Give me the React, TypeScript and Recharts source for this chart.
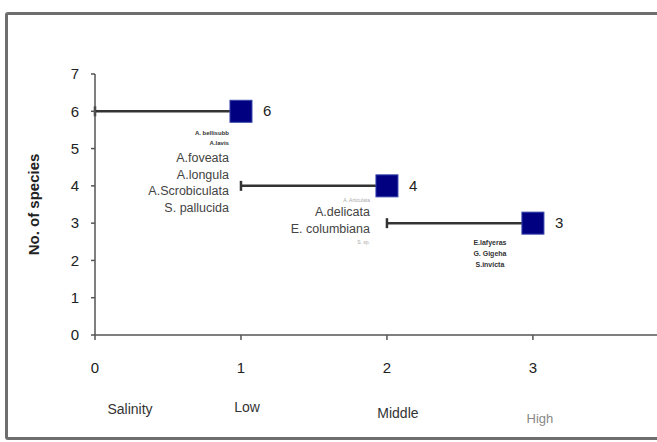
import React from "react";
import { ScatterChart, Scatter, XAxis, YAxis, ErrorBar } from "recharts";

// salinity level, number of species, and where each bar starts
const levels = [1, 2, 3];
const speciesCount = [6, 4, 3];
const rangeStart = [0, 1, 2];
const xTicks = [0, 1, 2, 3];
const yTicks = [0, 1, 2, 3, 4, 5, 6, 7];
const salinityNames = ["Salinity", "Low", "Middle", "High"];

const lowSpecies = ["A. bellisubb", "A.lavis", "A.foveata", "A.longula", "A.Scrobiculata", "S. pallucida"];
const middleSpecies = ["A. Articulata", "A.delicata", "E. columbiana", "S. sp."];
const highSpecies = ["E.lafyeras", "G. Gigeha", "S.invicta"];
const speciesGroups = [lowSpecies, middleSpecies, highSpecies];

const FONT = "'Liberation Sans', Arial, sans-serif";

// layout of the species notes under each square
const noteLayout = [
  { dx: -12, anchor: "end", lines: [
    { dy: 24, size: 6, color: "#333", weight: 700 },
    { dy: 34, size: 6, color: "#333", weight: 700 },
    { dy: 51, size: 12.5, color: "#444", weight: 400 },
    { dy: 68, size: 12.5, color: "#444", weight: 400 },
    { dy: 84, size: 12.5, color: "#444", weight: 400 },
    { dy: 101, size: 12.5, color: "#444", weight: 400 },
  ] },
  { dx: -17, anchor: "end", lines: [
    { dy: 16, size: 5, color: "#aaa", weight: 400 },
    { dy: 30, size: 12.5, color: "#444", weight: 400 },
    { dy: 47, size: 12.5, color: "#444", weight: 400 },
    { dy: 58, size: 5, color: "#aaa", weight: 400 },
  ] },
  { dx: -43, anchor: "middle", lines: [
    { dy: 22, size: 7, color: "#333", weight: 700 },
    { dy: 33, size: 7, color: "#333", weight: 700 },
    { dy: 44, size: 7, color: "#333", weight: 700 },
  ] },
];

// salinity class names sit below the numeric ticks
const catLayout = [
  { dx: 35, dy: 55, color: "#333", size: 14 },
  { dx: 6, dy: 53, color: "#333", size: 14 },
  { dx: 11, dy: 59, color: "#333", size: 14 },
  { dx: 7, dy: 64, color: "#888", size: 13 },
];

const points = levels.map((x, i) => ({
  x,
  y: speciesCount[i],
  err: [x - rangeStart[i], 0],
  idx: i,
}));

const Square = (props: any) => {
  const { cx, cy, payload } = props;
  const i = payload.idx;
  const layout = noteLayout[i];
  return (
    <g>
      <rect x={cx - 11} y={cy - 11} width={22} height={22} fill="#000080" stroke="#3344aa" strokeWidth={1} />
      <text x={cx + 22} y={cy + 5} fontSize={15} fill="#222" fontFamily={FONT}>
        {payload.y}
      </text>
      {speciesGroups[i].map((s, k) => {
        const l = layout.lines[k];
        return (
          <text
            key={k}
            x={cx + layout.dx}
            y={cy + l.dy}
            textAnchor={layout.anchor as any}
            fontSize={l.size}
            fill={l.color}
            fontWeight={l.weight}
            fontFamily={FONT}
          >
            {s}
          </text>
        );
      })}
    </g>
  );
};

// x tick: the number plus the salinity class name
const XTick = (props: any) => {
  const { x, y, index, payload } = props;
  const c = catLayout[index];
  return (
    <g>
      <text x={x} y={y + 14} textAnchor="middle" fontSize={15} fill="#222" fontFamily={FONT}>
        {payload.value}
      </text>
      <text x={x + c.dx} y={y + c.dy} textAnchor="middle" fontSize={c.size} fill={c.color} fontFamily={FONT}>
        {salinityNames[index]}
      </text>
    </g>
  );
};

export default function App() {
  return (
    <div style={{ position: "absolute", left: 0, top: 0, width: 657, height: 442, overflow: "hidden", background: "#fff" }}>
      <div style={{ position: "absolute", left: 0, top: 0 }}>
        <ScatterChart width={657} height={442} margin={{ top: 74, right: 0, left: 0, bottom: 77 }}>
          <XAxis
            type="number"
            dataKey="x"
            domain={[0, 3.85]}
            ticks={xTicks}
            allowDataOverflow
            stroke="#555"
            strokeWidth={1.5}
            tickSize={5}
            tickMargin={19}
            height={30}
            tick={<XTick />}
          />
          <YAxis
            type="number"
            dataKey="y"
            domain={[0, 7]}
            ticks={yTicks}
            width={95}
            stroke="#555"
            strokeWidth={1.5}
            tickSize={4}
            tickMargin={12}
            tick={{ fill: "#222", fontSize: 15, fontFamily: FONT }}
            label={{
              value: "No. of species",
              angle: -90,
              position: "center",
              dx: -14,
              style: { fontWeight: 700, fontSize: 15, fill: "#222", fontFamily: FONT },
            }}
          />
          <Scatter data={points} shape={() => <g />} isAnimationActive={false}>
            <ErrorBar dataKey="err" direction="x" width={5} stroke="#333" strokeWidth={2.5} />
          </Scatter>
          <Scatter data={points} shape={<Square />} isAnimationActive={false} />
        </ScatterChart>
      </div>
      <div
        style={{
          position: "absolute",
          left: 5,
          top: 12,
          width: 700,
          height: 422,
          border: "3px solid #6e6e6e",
          borderRadius: 3,
          pointerEvents: "none",
        }}
      />
    </div>
  );
}
